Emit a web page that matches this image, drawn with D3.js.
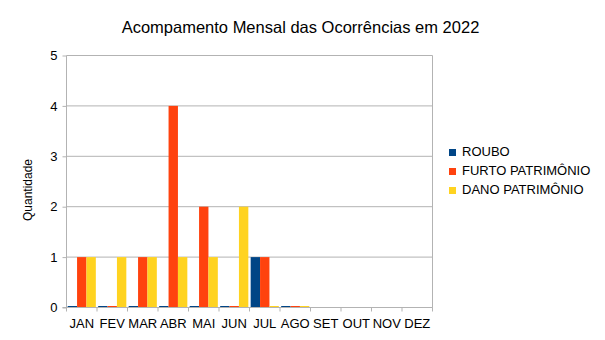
<!DOCTYPE html>
<html><head><meta charset="utf-8">
<script src="https://cdn.jsdelivr.net/npm/d3@7"></script>
<style>body{margin:0;background:#fff}svg{display:block;font-family:"Liberation Sans",Arial,sans-serif}</style>
</head><body>
<svg id="c" width="605" height="340"></svg>
<script>
const months = ["JAN","FEV","MAR","ABR","MAI","JUN","JUL","AGO","SET","OUT","NOV","DEZ"];
const seriesNames = ["ROUBO","FURTO PATRIMÔNIO","DANO PATRIMÔNIO"];
const colors = ["#004586","#ff420e","#ffd320"];
const roubo = [0,0,0,0,0,0,1,0,null,null,null,null];
const furto = [1,0,1,4,2,0,1,0,null,null,null,null];
const dano  = [1,1,1,1,1,2,0,0,null,null,null,null];
const yTicks = [0,1,2,3,4,5];
const title = "Acompamento Mensal das Ocorrências em 2022";
const yTitle = "Quantidade";

const svg = d3.select("#c");
const L = 66.5, R = 432.5, T = 55.5, B = 307.5;
const x = d3.scaleBand().domain(months).range([L, R]).paddingInner(0).paddingOuter(0);
const xs = d3.scaleBand().domain(seriesNames).range([0, x.bandwidth()]).paddingInner(0).paddingOuter(0.125);
const y = d3.scaleLinear().domain([0,5]).range([B, T]);
const grid = "#b3b3b3";

// gridlines
svg.append("g").selectAll("line").data(yTicks).join("line")
  .attr("x1", L).attr("x2", R).attr("y1", d=>y(d)).attr("y2", d=>y(d))
  .attr("stroke", grid).attr("stroke-width", 1);
// right border
svg.append("line").attr("x1", R).attr("x2", R).attr("y1", T).attr("y2", B).attr("stroke", grid);

// bars
const data = [roubo, furto, dano];
const g = svg.append("g");
data.forEach((arr, si) => {
  g.append("g").selectAll("rect").data(months.map((m,i)=>({m, v:arr[i]})).filter(d=>d.v!==null))
    .join("rect")
    .attr("x", d => x(d.m) + xs(seriesNames[si]))
    .attr("width", xs.bandwidth())
    .attr("y", d => d.v === 0 ? y(0) - 1.5 : y(d.v))
    .attr("height", d => d.v === 0 ? 2 : y(0) - y(d.v))
    .attr("fill", colors[si]);
});

// y axis
const ya = d3.axisLeft(y).tickValues(yTicks).tickSize(4).tickPadding(5).tickFormat(d3.format("d"));
const yg = svg.append("g").attr("transform", `translate(${L},0)`).call(ya);
yg.select(".domain").attr("stroke", grid).attr("d", `M-4,${B}H0V${T}`);
yg.selectAll(".tick line").attr("stroke", grid);
yg.selectAll("text").attr("font-size", 13).attr("fill", "#000").attr("font-family", "Liberation Sans, Arial, sans-serif");

// x axis
const xa = d3.axisBottom(x).tickSize(0).tickPadding(11);
const xg = svg.append("g").attr("transform", `translate(0,${B})`).call(xa);
xg.select(".domain").attr("stroke", grid).attr("d", `M${L},0H${R}`);
xg.selectAll("text").attr("font-size", 13).attr("fill", "#000").attr("font-family", "Liberation Sans, Arial, sans-serif");
// tick marks at band boundaries
const bounds = months.map(m => x(m)).concat([R]);
svg.append("g").selectAll("line").data(bounds).join("line")
  .attr("x1", d=>d).attr("x2", d=>d).attr("y1", B).attr("y2", B+4).attr("stroke", grid);

// title
svg.append("text").attr("x", 300.5).attr("y", 33).attr("text-anchor","middle")
  .attr("font-size", 16.5).attr("fill","#000").text(title);
// y title
svg.append("text").attr("transform", `translate(32,190) rotate(-90)`).attr("text-anchor","middle")
  .attr("font-size", 12).attr("fill","#000").text(yTitle);

// legend
const lg = svg.append("g");
seriesNames.forEach((n,i) => {
  const yy = 149 + i*19;
  lg.append("rect").attr("x", 449).attr("y", yy).attr("width", 7).attr("height", 7).attr("fill", colors[i]);
  lg.append("text").attr("x", 462).attr("y", yy+7).attr("font-size", 13).attr("fill","#000").text(n);
});
</script>
</body></html>
